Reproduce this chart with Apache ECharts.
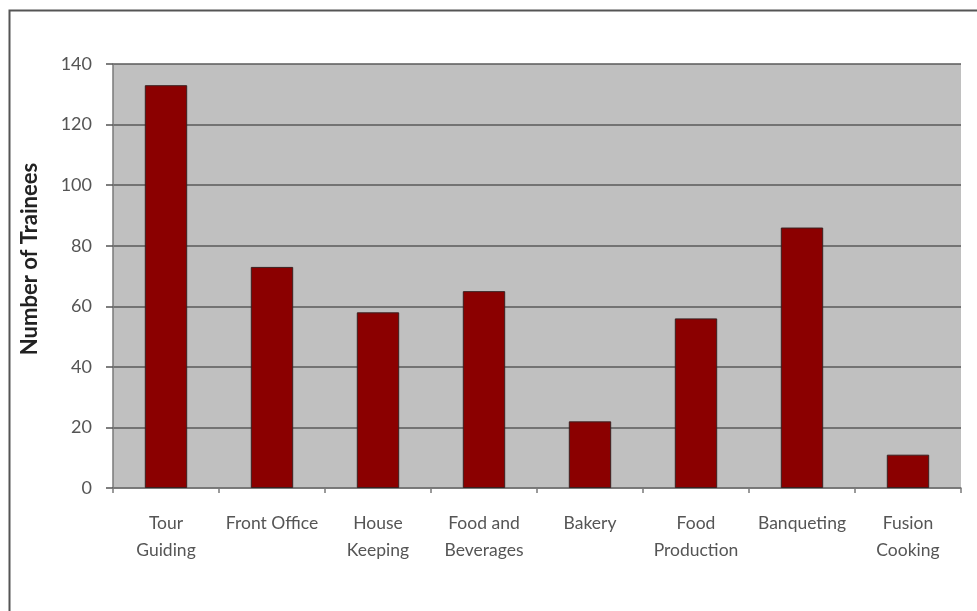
<!DOCTYPE html>
<html><head><meta charset="utf-8">
<script src="https://cdn.jsdelivr.net/npm/echarts@6/dist/echarts.min.js"></script>
<style>html,body{margin:0;padding:0;background:#fff}#c{width:977px;height:611px}</style>
</head><body><div id="c"></div>
<script>
const categories = ['Tour\nGuiding','Front Office','House\nKeeping','Food and\nBeverages','Bakery','Food\nProduction','Banqueting','Fusion\nCooking'];
const trainees = [133, 73, 58, 65, 22, 56, 86, 11];
const yTicks = [0, 20, 40, 60, 80, 100, 120, 140];

const chart = echarts.init(document.getElementById('c'), null, {renderer:'canvas'});
const font = 'Lato, "Liberation Sans", sans-serif';
chart.setOption({
  animation: false,
  graphic: [{
    type: 'rect', left: 7, top: 8, z: -10,
    shape: {width: 975, height: 610},
    style: {fill: 'none', stroke: '#555', lineWidth: 2}
  }],
  grid: {left: 113, top: 64, width: 848, height: 424, backgroundColor: '#C0C0C0', show: true, borderWidth: 0},
  xAxis: {
    type: 'category', data: categories,
    axisLine: {lineStyle: {color: '#7a7a7a', width: 1.5}},
    axisTick: {show: true, length: 5, lineStyle: {color: '#7a7a7a', width: 1.5}},
    axisLabel: {color: '#555', fontFamily: font, fontSize: 17.5, margin: 22, lineHeight: 27, interval: 0}
  },
  yAxis: {
    type: 'value', min: yTicks[0], max: yTicks[yTicks.length-1], interval: 20,
    name: 'Number of Trainees', nameLocation: 'middle', nameGap: 72, nameRotate: 90,
    nameTextStyle: {color: '#222', fontFamily: font, fontSize: 22, fontWeight: 'bold', padding: [0, 0, 0, 34]},
    axisLine: {show: true, lineStyle: {color: '#7a7a7a', width: 1.5}},
    axisTick: {show: true, length: 7, lineStyle: {color: '#555', width: 1.5}},
    axisLabel: {color: '#555', fontFamily: font, fontSize: 18, margin: 21},
    splitLine: {show: true, lineStyle: {color: '#5a5a5a', width: 1.5}}
  },
  series: [{
    type: 'bar', data: trainees, barCategoryGap: '60%',
    itemStyle: {color: '#8B0000', borderColor: '#3a2020', borderWidth: 1}
  }]
});
</script></body></html>
